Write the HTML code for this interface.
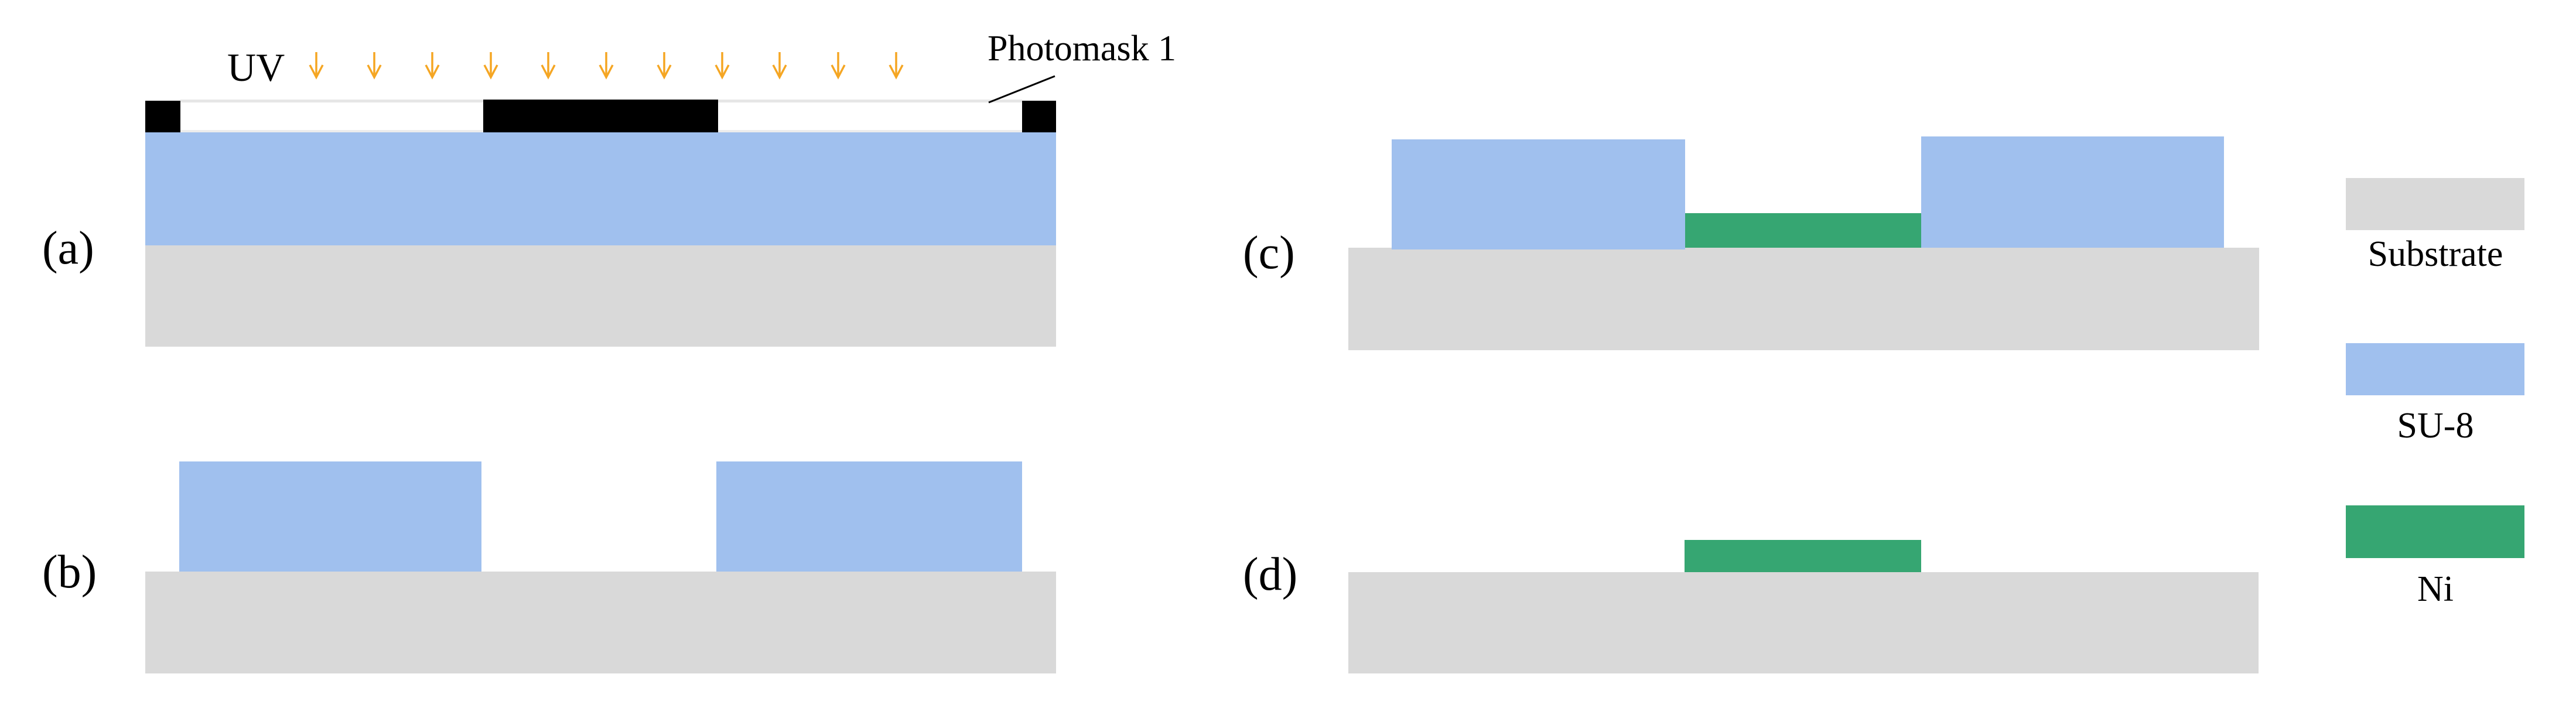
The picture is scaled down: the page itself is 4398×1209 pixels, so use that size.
<!DOCTYPE html>
<html><head><meta charset="utf-8"><style>
html,body{margin:0;padding:0;background:#fff;}
svg{display:block;}
text{font-family:"Liberation Serif","Times New Roman",serif;fill:#000;}
</style></head><body>
<svg width="4398" height="1209" viewBox="0 0 4398 1209" xmlns="http://www.w3.org/2000/svg" font-family="Liberation Serif, serif">
<defs>
<g id="arr"><line x1="0" y1="0" x2="0" y2="42" stroke="#f5a623" stroke-width="3.5"/><polyline points="-11,22 0,43 11,22" fill="none" stroke="#f5a623" stroke-width="3.5"/></g>
</defs>
<!-- (a) -->
<rect x="248" y="419" width="1555" height="173" fill="#d9d9d9"/>
<rect x="248" y="226" width="1555" height="193" fill="#a0c0ee"/>
<rect x="308" y="170" width="1437" height="5" fill="#e6e6e6"/>
<rect x="308" y="222" width="1437" height="4" fill="#ececec"/>
<rect x="248" y="172" width="60" height="54" fill="#000"/>
<rect x="825" y="170" width="401" height="56" fill="#000"/>
<rect x="1745" y="172" width="58" height="54" fill="#000"/>
<line x1="1801" y1="130" x2="1688" y2="175" stroke="#000" stroke-width="3"/>
<text x="388" y="138" font-size="68">UV</text>
<text x="1686" y="103" font-size="62">Photomask 1</text>
<use href="#arr" x="540" y="89"/><use href="#arr" x="639" y="89"/><use href="#arr" x="738" y="89"/>
<use href="#arr" x="838" y="89"/><use href="#arr" x="936" y="89"/><use href="#arr" x="1035" y="89"/>
<use href="#arr" x="1134" y="89"/><use href="#arr" x="1233" y="89"/><use href="#arr" x="1331" y="89"/>
<use href="#arr" x="1431" y="89"/><use href="#arr" x="1530" y="89"/>
<text x="72" y="450" font-size="80">(a)</text>
<!-- (b) -->
<rect x="248" y="976" width="1555" height="174" fill="#d9d9d9"/>
<rect x="306" y="788" width="516" height="188" fill="#a0c0ee"/>
<rect x="1223" y="788" width="522" height="188" fill="#a0c0ee"/>
<text x="72" y="1003" font-size="80">(b)</text>
<!-- (c) -->
<rect x="2302" y="423" width="1555" height="175" fill="#d9d9d9"/>
<rect x="2376" y="238" width="501" height="188" fill="#a0c0ee"/>
<rect x="3280" y="233" width="517" height="190" fill="#a0c0ee"/>
<rect x="2877" y="364" width="403" height="59" fill="#36a672"/>
<text x="2122" y="458" font-size="80">(c)</text>
<!-- (d) -->
<rect x="2302" y="977" width="1554" height="173" fill="#d9d9d9"/>
<rect x="2876" y="922" width="404" height="55" fill="#36a672"/>
<text x="2122" y="1007" font-size="80">(d)</text>
<!-- legend -->
<rect x="4005" y="304" width="305" height="89" fill="#d9d9d9"/>
<text x="4158" y="454" font-size="62" text-anchor="middle">Substrate</text>
<rect x="4005" y="586" width="305" height="89" fill="#a0c0ee"/>
<text x="4158" y="747" font-size="62" text-anchor="middle">SU-8</text>
<rect x="4005" y="863" width="305" height="90" fill="#36a672"/>
<text x="4158" y="1026" font-size="62" text-anchor="middle">Ni</text>
</svg>
</body></html>
